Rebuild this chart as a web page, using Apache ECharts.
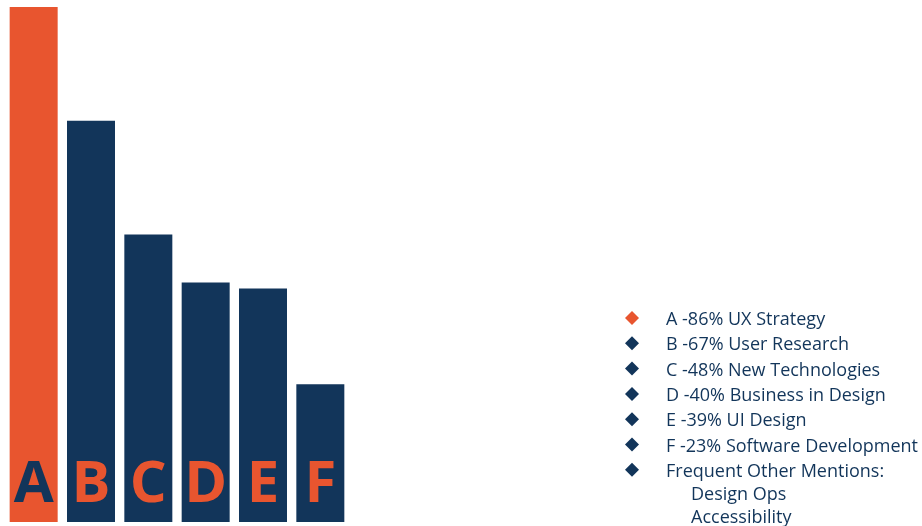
<!DOCTYPE html>
<html>
<head>
<meta charset="utf-8">
<script src="https://cdn.jsdelivr.net/npm/echarts@6/dist/echarts.min.js"></script>
<style>
  html, body { margin: 0; padding: 0; background: #fff; }
  #chart { width: 922px; height: 526px; }
</style>
</head>
<body>
<div id="chart"></div>
<script>
// Skill areas, share of mentions (%)
const categories = ['A', 'B', 'C', 'D', 'E', 'F'];
const values = [86, 67, 48, 40, 39, 23];
const topics = ['UX Strategy', 'User Research', 'New Technologies', 'Business in Design', 'UI Design', 'Software Development'];
const otherHeading = 'Frequent Other Mentions:';
const otherMentions = ['Design Ops', 'Accessibility'];

const ORANGE = '#E8552F';
const NAVY = '#12355A';
const FONT = '"Open Sans", "Noto Sans", sans-serif';

const chart = echarts.init(document.getElementById('chart'));

// first bar is highlighted in orange with a navy letter, the rest the other way round
const barData = values.map((v, i) => ({
  value: v,
  itemStyle: { color: i === 0 ? ORANGE : NAVY },
  label: { color: i === 0 ? NAVY : ORANGE }
}));

// legend list: diamond marker + text rows
const legendX = 632, textX = 666, rowY0 = 318, rowStep = 25.3;
const graphics = [];
const rows = categories.map((c, i) => c + ' -' + values[i] + '% ' + topics[i]);
rows.push(otherHeading);
rows.forEach((t, i) => {
  const y = rowY0 + i * rowStep;
  graphics.push({
    type: 'polygon',
    shape: { points: [[legendX, y - 7], [legendX + 7, y], [legendX, y + 7], [legendX - 7, y]] },
    style: { fill: i === 0 ? ORANGE : NAVY }
  });
  graphics.push({
    type: 'text', x: textX, y: y + 2,
    style: { text: t, fill: NAVY, font: '18px ' + FONT, textVerticalAlign: 'middle' }
  });
});
otherMentions.forEach((t, j) => {
  graphics.push({
    type: 'text', x: 691, y: rowY0 + rows.length * rowStep + j * 23,
    style: { text: t, fill: NAVY, font: '18px ' + FONT, textVerticalAlign: 'middle' }
  });
});

chart.setOption({
  animation: false,
  grid: { left: 5, top: 7, width: 344, bottom: 4 },
  xAxis: {
    type: 'category',
    data: categories,
    axisLine: { show: false },
    axisTick: { show: false },
    axisLabel: { show: false }
  },
  yAxis: {
    type: 'value',
    min: 0,
    max: 86,
    show: false,
    splitLine: { show: false }
  },
  series: [{
    type: 'bar',
    data: barData,
    barWidth: 48,
    label: {
      show: true,
      position: 'insideBottom',
      distance: 8,
      formatter: '{b}',
      fontFamily: FONT,
      fontWeight: 'bold',
      fontSize: 58
    }
  }],
  graphic: graphics
});
</script>
</body>
</html>
